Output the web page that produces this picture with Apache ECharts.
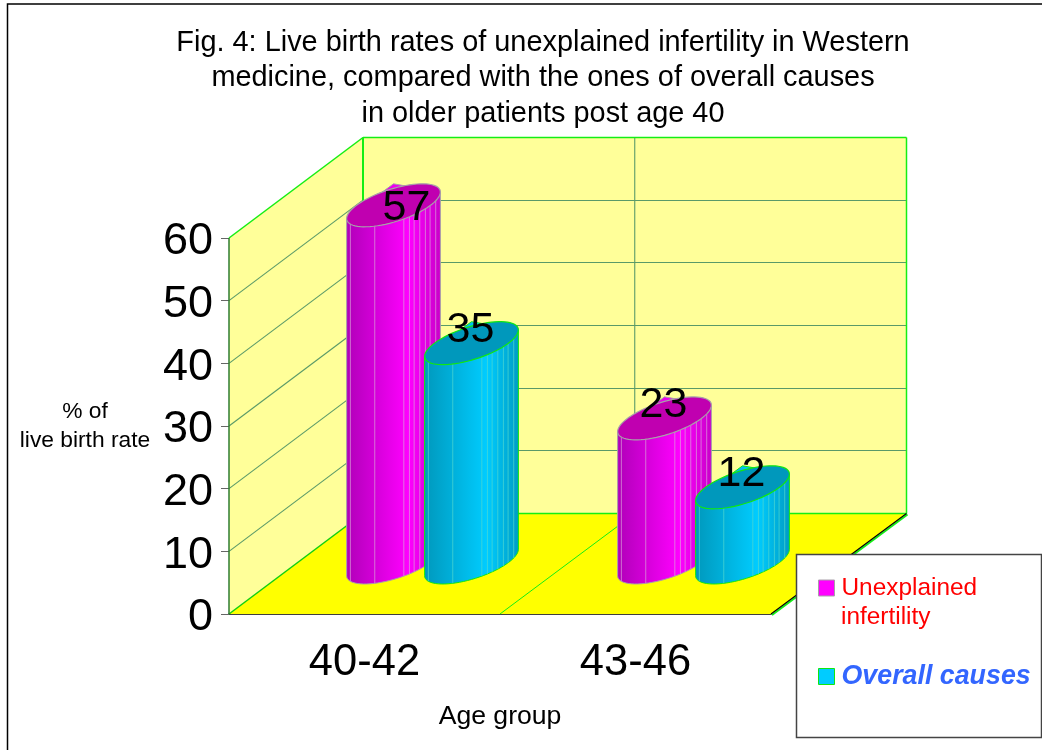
<!DOCTYPE html>
<html><head><meta charset="utf-8">
<style>html,body{margin:0;padding:0;background:#fff}#c{width:1042px;height:750px}</style>
<script src="https://cdn.jsdelivr.net/npm/echarts@6/dist/echarts.min.js"></script>
</head><body><div id="c"></div>
<script>
const ageGroups = ['40-42', '43-46'];
const unexplained = [57, 23];
const overall = [35, 12];
const yMin = 0, yMax = 60, yStep = 10;
const titleLines = ['Fig. 4: Live birth rates of unexplained infertility in Western',
  'medicine, compared with the ones of overall causes', 'in older patients post age 40'];

const FONT = '"Liberation Sans", Arial, sans-serif';
const DEPTH = [134, -100];
const BAR_DEPTH = 0.515, BAR_OFFSETS = {'-1': -40, '1': 38};
const R_X = 37, R_DX = 28.8, R_DY = 21.5;
const STRIPES = [0.04, 0.30, 0.61, 0.67, 0.72, 0.78, 0.84, 0.89, 0.95];

const chart = echarts.init(document.getElementById('c'), null, {renderer: 'canvas'});

function line(a, b, color, w, op) {
  return {type: 'line', shape: {x1: a[0], y1: a[1], x2: b[0], y2: b[1]},
    style: {stroke: color, lineWidth: w, opacity: op === undefined ? 1 : op}, silent: true};
}
function poly(pts, fill) {
  return {type: 'polygon', shape: {points: pts}, style: {fill: fill}, silent: true};
}
function renderWalls(params, api) {
  const g = params.coordSys, x0 = g.x, x1 = g.x + g.width, yB = g.y + g.height, yT = g.y;
  const d = (p) => [p[0] + DEPTH[0] + 1.5 * (p[0] - x0) / g.width, p[1] + DEPTH[1] - 0.5];
  const dull = '#5A9A68', bright = '#14EE14';
  const kids = [
    poly([[x0, yB], [x0, yT], d([x0, yT]), d([x0, yB])], '#FFFF99'),
    poly([d([x0, yT]), d([x1, yT]), d([x1, yB]), d([x0, yB])], '#FFFF99'),
    poly([[x0, yB], [x1, yB], d([x1, yB]), d([x0, yB])], '#FFFF00')
  ];
  for (let v = yMin + yStep; v < yMax; v += yStep) {
    const p = [x0, api.coord([0, v])[1]];
    const q = d(p), r = d([x1, p[1]]);
    const yy = Math.floor(q[1]) + 0.5;
    kids.push(line(p, q, dull, 1.1));
    kids.push(line([q[0], yy], [r[0], yy], dull, 1.2));
  }
  const xm = (x0 + x1) / 2;
  kids.push(line(d([xm, yT]), d([xm, yB]), dull, 1.1));
  kids.push(line([xm, yB], d([xm, yB]), bright, 1));
  kids.push(line([x0, yB], d([x0, yB]), '#10D010', 1.5));
  kids.push(line(d([x0, yB]), d([x1, yB]), bright, 1.5));
  kids.push(line([x0, yT], d([x0, yT]), bright, 1.5));
  kids.push(line(d([x0, yT]), d([x1, yT]), bright, 1.5));
  kids.push(line(d([x0, yT]), d([x0, yB]), bright, 2));
  kids.push(line(d([x1, yT]), d([x1, yB]), bright, 1.5));
  kids.push(line([x0, yT], [x0, yB], '#2E7D32', 1.5));
  const e = d([x1, yB]);
  kids.push(line([x1 + 1, yB + 1], [e[0] + 1, e[1] + 1], bright, 2));
  kids.push(line([x1, yB], e, '#000000', 1.2));
  return {type: 'group', children: kids};
}
function cylinder(side, pal) {
  return function (params, api) {
    const cat = api.value(0), val = api.value(1);
    const top0 = api.coord([cat, val]), base0 = api.coord([cat, yMin]);
    const cx = top0[0] + BAR_OFFSETS[side] + BAR_DEPTH * DEPTH[0];
    const cyT = top0[1] + BAR_DEPTH * DEPTH[1], cyB = base0[1] + BAR_DEPTH * DEPTH[1];
    const t0 = Math.atan2(R_DX, R_X);
    const pt = (t, cy) => [cx + R_X * Math.cos(t) + R_DX * Math.sin(t), cy - R_DY * Math.sin(t)];
    const front = [], ring = [];
    for (let i = 0; i <= 36; i++) front.push(pt(t0 - Math.PI * i / 36, cyB));
    for (let i = 0; i < 72; i++) ring.push(pt(t0 + Math.PI * 2 * i / 72, cyT));
    const body = front.concat([pt(t0 - Math.PI, cyT), [cx, cyT - R_DY], pt(t0, cyT)]);
    const kids = [{
      type: 'polygon', shape: {points: body}, silent: true,
      style: {fill: new echarts.graphic.LinearGradient(0, 0, 1, 0, [
        {offset: 0, color: pal[0]}, {offset: 0.66, color: pal[1]}, {offset: 1, color: pal[2]}]),
        stroke: pal[4], lineWidth: 1}
    }];
    STRIPES.forEach(f => {
      const t = t0 - Math.acos(2 * f - 1);
      kids.push(line(pt(t, cyT), pt(t, cyB), pal[5], 1, 0.7));
    });
    kids.push({type: 'polygon', shape: {points: ring}, silent: true,
      style: {fill: pal[3], stroke: pal[4], lineWidth: 1.2}});
    const shifted = side < 0 && params.dataIndex === 0;
    kids.push({type: 'text', silent: true, x: cx + (shifted ? 13 : -1), y: cyT + (shifted ? 3 : -13),
      style: {text: String(val), fill: '#000', font: '43px ' + FONT, align: 'center', verticalAlign: 'middle'}});
    return {type: 'group', children: kids};
  };
}
const PINK = ['#B000B8', '#FF00FF', '#C800C8', '#C000B0', '#A8A0A8', '#D8A0D8'];
const TEAL = ['#0098BC', '#00CCFF', '#009CC4', '#0098BC', '#10E810', '#50D8D0'];

const pairs = (vals) => vals.map((v, i) => [i, v]);
chart.setOption({
  animation: false,
  backgroundColor: '#fff',
  title: {
    text: titleLines.join('\n'), left: 538, top: 20, textAlign: 'center',
    textStyle: {fontFamily: FONT, fontWeight: 'normal', fontSize: 28.9, lineHeight: 35.5, color: '#000'}
  },
  grid: {left: 229, top: 238, width: 542, height: 376, containLabel: false},
  xAxis: {
    type: 'category', data: ageGroups, name: 'Age group', nameLocation: 'middle', nameGap: 89,
    nameTextStyle: {fontFamily: FONT, fontSize: 26.6, color: '#000'},
    axisLine: {lineStyle: {color: '#000', width: 1.5}},
    axisTick: {length: 8, lineStyle: {color: '#333'}},
    axisLabel: {fontFamily: FONT, fontSize: 43.5, color: '#000', margin: 27},
    splitLine: {show: false}
  },
  yAxis: {
    type: 'value', min: yMin, max: yMax, interval: yStep,
    name: '% of\nlive birth rate', nameLocation: 'middle', nameRotate: 0, nameGap: 144,
    nameTextStyle: {fontFamily: FONT, fontSize: 22.8, lineHeight: 29, color: '#000', align: 'center', verticalAlign: 'middle', padding: [0, 0, 2, 0]},
    axisLine: {show: false},
    axisTick: {show: true, length: 8, lineStyle: {color: '#666'}},
    axisLabel: {margin: 16, formatter: '{n|{value}}',
      rich: {n: {fontFamily: FONT, fontSize: 45, color: '#000', padding: [8, 0, 0, 0]}}},
    splitLine: {show: false}
  },
  legend: {
    orient: 'vertical', left: 813, top: 571, itemWidth: 16, itemHeight: 16, itemGap: 63, icon: 'rect',
    selectedMode: false, z: 6,
    formatter: (n) => n.split(' ')[0] === 'Unexplained' ? 'Unexplained' : n,
    data: [
      {name: 'Unexplained infertility', itemStyle: {color: '#FF00FF', borderColor: '#A8A0A8', borderWidth: 1},
        textStyle: {color: '#FF0000', fontFamily: FONT, fontSize: 24.4, padding: [0, 0, 0, 2]}},
      {name: 'Overall causes', itemStyle: {color: '#00CCFF', borderColor: '#10E810', borderWidth: 1},
        textStyle: {color: '#3366FF', fontFamily: FONT, fontSize: 26.8, fontWeight: 'bold', fontStyle: 'italic', padding: [0, 0, 0, 2]}}
    ]
  },
  graphic: [
    {type: 'rect', z: 5, silent: true, shape: {x: 796.5, y: 554.5, width: 245, height: 183},
      style: {fill: '#fff', stroke: '#444', lineWidth: 1.5}},
    {type: 'rect', z: 5, silent: true, shape: {x: 7.5, y: 4, width: 1100, height: 800},
      style: {fill: 'transparent', stroke: '#000', lineWidth: 1.5}},
    {type: 'text', z: 6, silent: true, x: 841, y: 605,
      style: {text: 'infertility', fill: '#FF0000', font: '24.4px ' + FONT}}
  ],
  series: [
    {type: 'custom', name: 'walls', coordinateSystem: 'cartesian2d', z: 1, data: [[0, 0]], renderItem: renderWalls, clip: false, silent: true},
    {type: 'custom', name: 'Unexplained infertility', coordinateSystem: 'cartesian2d', z: 2, clip: false, silent: true,
      itemStyle: {color: '#FF00FF'}, data: pairs(unexplained), renderItem: cylinder(-1, PINK)},
    {type: 'custom', name: 'Overall causes', coordinateSystem: 'cartesian2d', z: 3, clip: false, silent: true,
      itemStyle: {color: '#00CCFF'}, data: pairs(overall), renderItem: cylinder(1, TEAL)}
  ]
});
</script></body></html>
